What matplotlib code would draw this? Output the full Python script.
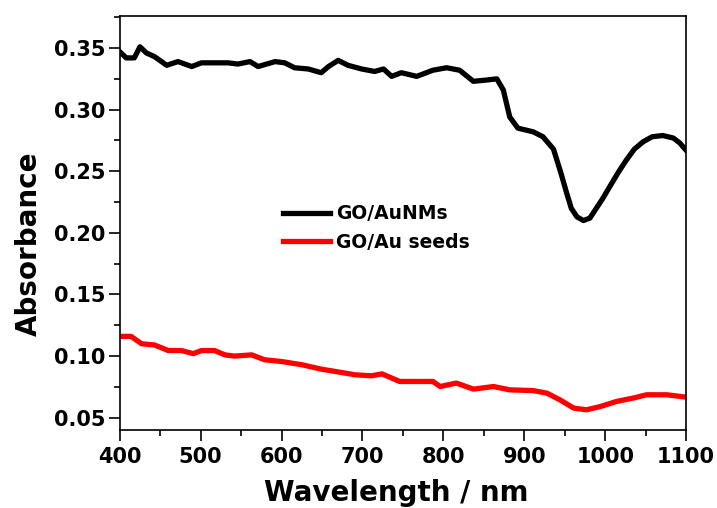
import matplotlib
matplotlib.use("Agg")
import matplotlib.pyplot as plt
from matplotlib.ticker import MultipleLocator

plt.rcParams['font.family'] = ['DejaVu Sans']
plt.rcParams['font.weight'] = 'bold'

# GO/AuNMs (black)
wl_black = [400, 408, 418, 425, 433, 443, 458, 472, 489, 501, 517, 534, 546, 561,
            571, 592, 604, 616, 633, 649, 658, 670, 682, 699, 715, 726, 736, 748,
            767, 787, 804, 820, 837, 853, 866, 874, 882, 892, 911, 923, 936, 945,
            952, 958, 965, 973, 981, 989, 997, 1006, 1016, 1026, 1036, 1047, 1058,
            1071, 1084, 1092, 1100]
abs_black = [0.347, 0.342, 0.342, 0.351, 0.346, 0.343, 0.336, 0.339, 0.335, 0.338,
             0.338, 0.338, 0.337, 0.339, 0.335, 0.339, 0.338, 0.334, 0.333, 0.330,
             0.335, 0.340, 0.336, 0.333, 0.331, 0.333, 0.327, 0.330, 0.327, 0.332,
             0.334, 0.332, 0.323, 0.324, 0.325, 0.316, 0.294, 0.285, 0.282, 0.278,
             0.268, 0.249, 0.233, 0.220, 0.213, 0.210, 0.212, 0.220, 0.228, 0.238,
             0.249, 0.259, 0.268, 0.274, 0.278, 0.279, 0.277, 0.273, 0.267]

# GO/Au seeds (red)
wl_red = [400, 414, 427, 443, 460, 476, 491, 501, 517, 530, 542, 563, 579, 600,
          625, 649, 674, 691, 711, 724, 746, 767, 787, 796, 816, 837, 862, 882,
          911, 928, 944, 961, 977, 994, 1014, 1035, 1051, 1076, 1100]
abs_red = [0.116, 0.116, 0.110, 0.109, 0.1045, 0.1045, 0.102, 0.1045, 0.1045, 0.101,
           0.100, 0.101, 0.097, 0.0956, 0.093, 0.0894, 0.0867, 0.0848, 0.084, 0.0856,
           0.0794, 0.0794, 0.0794, 0.0753, 0.0781, 0.0732, 0.0753, 0.0726, 0.072,
           0.0699, 0.0645, 0.0578, 0.0564, 0.0591, 0.0632, 0.066, 0.0686, 0.0686,
           0.0667]

fig = plt.figure(figsize=(7.17, 5.08), dpi=100)
ax = fig.add_axes([0.167, 0.1535, 0.790, 0.815])

ax.plot(wl_black, abs_black, color='black', lw=3.8, label='GO/AuNMs')
ax.plot(wl_red, abs_red, color='red', lw=3.8, label='GO/Au seeds')

ax.set_xlim(400, 1100)
ax.set_ylim(0.040, 0.376)
ax.xaxis.set_major_locator(MultipleLocator(100))
ax.xaxis.set_minor_locator(MultipleLocator(50))
ax.yaxis.set_major_locator(MultipleLocator(0.05))
ax.yaxis.set_minor_locator(MultipleLocator(0.025))
ax.yaxis.set_major_formatter(plt.FuncFormatter(lambda v, p: '%.2f' % v))

ax.tick_params(which='both', direction='out', top=False, right=False, width=1.2)
ax.tick_params(which='major', length=8, labelsize=15)
ax.tick_params(which='minor', length=4.5)
ax.tick_params(axis='y', which='major', pad=2)
ax.tick_params(axis='x', which='major', pad=4)
for s in ax.spines.values():
    s.set_linewidth(1.2)
for lab in ax.get_xticklabels() + ax.get_yticklabels():
    lab.set_fontweight('bold')

ax.set_xlabel('Wavelength / nm', fontsize=20, fontweight='bold')
ax.set_ylabel('Absorbance', fontsize=20, fontweight='bold')
ax.xaxis.set_label_coords(0.4885, -0.118)
ax.yaxis.set_label_coords(-0.136, 0.449)

ax.legend(loc='upper left', bbox_to_anchor=(0.288, 0.545), frameon=False,
          borderaxespad=0, borderpad=0, handlelength=2.5, handletextpad=0.35,
          labelspacing=0.5, prop={'size': 13.5, 'weight': 'bold'})

fig.savefig('out.png', dpi=100)
